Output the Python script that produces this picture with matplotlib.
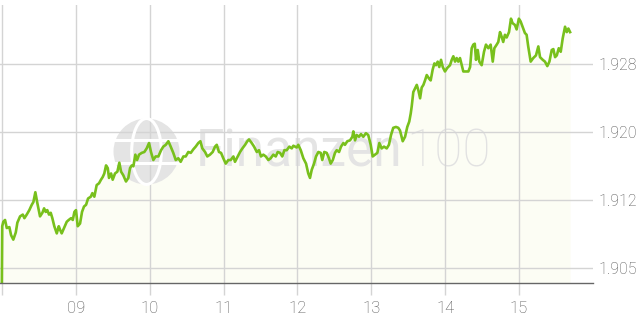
import numpy as np
import matplotlib
matplotlib.use("Agg")
import matplotlib.pyplot as plt
from matplotlib.patches import Ellipse

# intraday quote, minutes after 08:00
minutes = [0, 0.3, 1.2, 2.6, 4.0, 6.1, 7.5, 9.3, 11.3, 12.6, 14.8, 17.0, 18.3, 20.2, 22.3, 24.3,
           25.6, 27.2, 28.8, 31.0, 32.9, 34.3, 35.6, 36.9, 38.3, 39.7, 41.0, 42.6, 44.6, 46.2,
           47.3, 48.6, 50.5, 52.7, 54.3, 56.2, 57.6, 58.9, 60.2, 61.6, 63.5, 65.1, 66.7, 68.4,
           70.0, 72.2, 73.5, 75.1, 77.0, 78.9, 80.5, 81.9, 83.2, 84.6, 86.0, 87.0, 88.7, 90.0,
           91.9, 93.8, 95.4, 96.8, 98.6, 100.8, 102.7, 104.1, 105.5, 106.8, 108.4, 109.8, 111.4,
           113.6, 115.7, 117.6, 119.5, 121.1, 123.0, 124.9, 127.1, 129.3, 131.1, 133.1, 135.2,
           137.1, 139.2, 141.2, 143.3, 145.2, 147.4, 149.3, 151.4, 153.4, 155.5, 157.4, 159.5,
           161.2, 162.8, 165.0, 166.8, 169.0, 171.2, 173.1, 174.5, 176.3, 178.0, 179.8, 181.8,
           183.9, 185.8, 188.0, 189.3, 191.5, 193.4, 195.3, 197.5, 199.3, 200.7, 202.9, 204.8,
           207.0, 208.8, 210.4, 212.3, 214.3, 216.4, 218.3, 220.4, 222.4, 224.0, 225.9, 227.7,
           229.4, 231.3, 233.4, 235.4, 236.7, 239.4, 240.7, 242.7, 244.8, 247.0, 248.8, 250.2,
           251.6, 253.5, 255.1, 257.0, 258.9, 260.2, 261.8, 263.8, 265.6, 267.0, 268.7, 270.5,
           271.9, 273.8, 275.4, 277.3, 278.6, 280.5, 282.7, 284.6, 285.4, 286.8, 288.1, 290.0,
           291.6, 293.5, 295.6, 297.5, 299.5, 301.1, 303.0, 304.9, 306.5, 308.4, 310.3, 312.5,
           314.3, 316.0, 317.8, 320.0, 321.9, 323.3, 325.5, 327.4, 329.2, 330.8, 332.0, 332.8,
           334.1, 335.5, 336.9, 338.2, 339.6, 340.9, 342.3, 343.6, 345.0, 346.9, 348.2, 349.8,
           351.2, 352.5, 353.9, 355.2, 356.6, 358.0, 359.8, 361.7, 363.9, 365.3, 366.6, 368.0,
           369.3, 370.6, 372.0, 373.4, 374.7, 376.9, 378.8, 380.2, 381.5, 382.8, 384.0, 385.0,
           386.4, 387.7, 389.6, 391.5, 393.1, 395.0, 396.9, 398.6, 399.9, 401.8, 403.1, 404.5,
           405.8, 407.1, 408.5, 409.9, 411.8, 413.4, 414.7, 416.6, 418.0, 419.8, 421.2, 422.8,
           424.7, 426.1, 427.4, 429.4, 431.5, 433.7, 435.6, 437.0, 439.2, 441.0, 442.9, 444.6,
           446.5, 447.8, 449.2, 450.6, 452.2, 453.8, 455.4, 457.3, 458.7, 460.0, 461.4]
quote = [1.9031, 1.9095, 1.9100, 1.9102, 1.9093, 1.9094, 1.9085, 1.9080, 1.9088, 1.9099, 1.9106,
         1.9108, 1.9104, 1.9108, 1.9113, 1.9119, 1.9122, 1.9133, 1.9121, 1.9106, 1.9110, 1.9115,
         1.9111, 1.9113, 1.9108, 1.9110, 1.9104, 1.9095, 1.9087, 1.9095, 1.9091, 1.9087, 1.9093,
         1.9100, 1.9102, 1.9104, 1.9102, 1.9111, 1.9113, 1.9095, 1.9098, 1.9111, 1.9117, 1.9119,
         1.9126, 1.9128, 1.9132, 1.9128, 1.9141, 1.9143, 1.9147, 1.9150, 1.9154, 1.9163, 1.9160,
         1.9149, 1.9154, 1.9147, 1.9154, 1.9156, 1.9166, 1.9156, 1.9152, 1.9145, 1.9149, 1.9160,
         1.9163, 1.9162, 1.9175, 1.9169, 1.9175, 1.9177, 1.9178, 1.9182, 1.9188, 1.9178, 1.9169,
         1.9173, 1.9173, 1.9180, 1.9184, 1.9186, 1.9190, 1.9184, 1.9177, 1.9169, 1.9171, 1.9167,
         1.9173, 1.9173, 1.9178, 1.9177, 1.9181, 1.9184, 1.9188, 1.9190, 1.9182, 1.9178, 1.9173,
         1.9175, 1.9178, 1.9184, 1.9186, 1.9178, 1.9177, 1.9171, 1.9165, 1.9169, 1.9169, 1.9173,
         1.9167, 1.9173, 1.9178, 1.9182, 1.9186, 1.9190, 1.9192, 1.9188, 1.9184, 1.9178, 1.9180,
         1.9173, 1.9175, 1.9173, 1.9169, 1.9171, 1.9175, 1.9173, 1.9178, 1.9177, 1.9173, 1.9180,
         1.9180, 1.9184, 1.9182, 1.9185, 1.9183, 1.9186, 1.9180, 1.9171, 1.9165, 1.9154, 1.9149,
         1.9158, 1.9165, 1.9173, 1.9178, 1.9177, 1.9169, 1.9178, 1.9177, 1.9171, 1.9165, 1.9169,
         1.9177, 1.9180, 1.9178, 1.9184, 1.9188, 1.9186, 1.9190, 1.9191, 1.9195, 1.9201, 1.9191,
         1.9197, 1.9195, 1.9198, 1.9195, 1.9199, 1.9197, 1.9186, 1.9173, 1.9175, 1.9177, 1.9188,
         1.9182, 1.9184, 1.9182, 1.9186, 1.9197, 1.9205, 1.9206, 1.9205, 1.9202, 1.9190, 1.9195,
         1.9206, 1.9212, 1.9221, 1.9229, 1.9245, 1.9249, 1.9253, 1.9247, 1.9238, 1.9250, 1.9253,
         1.9258, 1.9264, 1.9260, 1.9258, 1.9270, 1.9277, 1.9275, 1.9279, 1.9273, 1.9281, 1.9273,
         1.9268, 1.9272, 1.9275, 1.9281, 1.9285, 1.9279, 1.9283, 1.9279, 1.9283, 1.9275, 1.9268,
         1.9268, 1.9268, 1.9273, 1.9294, 1.9298, 1.9299, 1.9281, 1.9292, 1.9279, 1.9275, 1.9290,
         1.9298, 1.9294, 1.9298, 1.9279, 1.9294, 1.9298, 1.9301, 1.9312, 1.9307, 1.9301, 1.9309,
         1.9306, 1.9312, 1.9327, 1.9322, 1.9320, 1.9315, 1.9327, 1.9324, 1.9318, 1.9311, 1.9309,
         1.9296, 1.9279, 1.9283, 1.9286, 1.9296, 1.9284, 1.9281, 1.9279, 1.9274, 1.9279, 1.9292,
         1.9293, 1.9284, 1.9286, 1.9294, 1.9290, 1.9305, 1.9318, 1.9312, 1.9316, 1.9312]

hour_ticks = [8, 9, 10, 11, 12, 13, 14, 15]
hour_labels = ["", "09", "10", "11", "12", "13", "14", "15"]
y_ticks = [1.9048, 1.9124, 1.9200, 1.9276]
y_labels = ["1.905", "1.912", "1.920", "1.928"]

hours = 8 + np.array(minutes) / 60.0
quote = np.array(quote)

GREEN = "#78c01c"
GRID = "#d4d4d4"
TXT = "#555555"
WM = "#e4e4e4"

fig = plt.figure(figsize=(6.4, 3.2), dpi=100)
ax = fig.add_axes([0, (320 - 283.3) / 320, 593 / 640, (283.3 - 5) / 320])
ymin, ymax = 1.90312, 1.93423
ax.set_xlim(7.975, 16.0)
ax.set_ylim(ymin, ymax)

ax.fill_between(hours, quote, ymin, color="#fcfdf4", lw=0, zorder=1)
ax.plot(hours, quote, color=GREEN, lw=1.9, zorder=4, solid_joinstyle="round")

# watermark logo
ax.text(0.33, 0.47, "Finanzen", transform=ax.transAxes, fontsize=37, color=WM,
        family="Roboto", va="center", ha="left", zorder=1.5)
ax.text(0.685, 0.47, "100", transform=ax.transAxes, fontsize=37, color="#e2e2e2",
        family="Roboto", fontweight="light", va="center", ha="left", zorder=1.5)
gx, gy = 146.5 / 593, (283.3 - 151.5) / 278.3
rx = 33 / 593
ry = 33 / 278.3
ax.add_patch(Ellipse((gx, gy), 2 * rx, 2 * ry, transform=ax.transAxes, color=WM, lw=0, zorder=1.5))
ax.add_patch(Ellipse((gx, gy), 0.9 * rx, 2 * ry, transform=ax.transAxes, fill=False,
                     ec="white", lw=2.2, zorder=1.6))
ax.plot([gx - rx, gx + rx], [gy + 0.35 * ry, gy + 0.35 * ry], transform=ax.transAxes,
        color="white", lw=2.2, zorder=1.6)
ax.plot([gx - rx, gx + rx], [gy - 0.35 * ry, gy - 0.35 * ry], transform=ax.transAxes,
        color="white", lw=2.2, zorder=1.6)

ax.set_xticks(hour_ticks)
ax.set_xticklabels(hour_labels)
ax.set_yticks(y_ticks)
ax.set_yticklabels(y_labels)
ax.yaxis.tick_right()
ax.grid(True, color=GRID, lw=1, zorder=2)
for ln in ax.get_xgridlines() + ax.get_ygridlines():
    ln.set_zorder(2)

ax.tick_params(axis="x", length=8.6, width=1, color=GRID, pad=4, labelsize=12, labelcolor=TXT)
ax.tick_params(axis="y", length=0, pad=4, labelsize=11.5, labelcolor=TXT)
for lab in ax.get_xticklabels() + ax.get_yticklabels():
    lab.set_family("Roboto")
    lab.set_fontweight("light")

for s in ["top", "left", "right"]:
    ax.spines[s].set_visible(False)
ax.spines["bottom"].set_color("#666666")
ax.spines["bottom"].set_linewidth(1)
ax.spines["bottom"].set_zorder(5)

fig.savefig("out.png", dpi=100)
